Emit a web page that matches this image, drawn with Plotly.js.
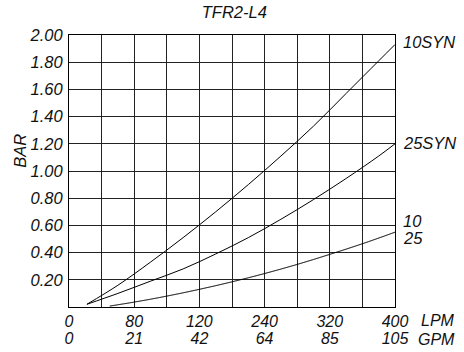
<!DOCTYPE html>
<html><head><meta charset="utf-8">
<script src="https://cdn.plot.ly/plotly-3.0.1.min.js"></script>
<style>html,body{margin:0;padding:0;background:#fff}#chart{width:464px;height:352px}</style>
</head><body><div id="chart"></div>
<script>
// Data (flow in LPM, pressure drop in BAR)
const xSyn10 = [22, 60, 100, 140, 180, 220, 260, 300, 340, 380, 400];
const ySyn10 = [0.02, 0.16, 0.33, 0.51, 0.70, 0.90, 1.11, 1.33, 1.57, 1.81, 1.93];
const xSyn25 = [22, 60, 100, 140, 180, 220, 260, 300, 340, 380, 400];
const ySyn25 = [0.02, 0.10, 0.19, 0.28, 0.39, 0.51, 0.645, 0.79, 0.945, 1.11, 1.20];
const x10 = [50, 80, 120, 160, 200, 240, 280, 320, 360, 400];
const y10 = [0.007, 0.036, 0.08, 0.13, 0.185, 0.246, 0.313, 0.387, 0.465, 0.55];
const x25 = [50, 80, 120, 160, 200, 240, 280, 320, 360, 400];
const y25 = [0.007, 0.036, 0.08, 0.13, 0.185, 0.246, 0.313, 0.387, 0.465, 0.55];
const seriesNames = ["10SYN", "25SYN", "10", "25"];
const labelY = [1.945, 1.205, 0.63, 0.51];
const gridX = [0, 40, 80, 120, 160, 200, 240, 280, 320, 360, 400];
const lpmText = ["0", "", "80", "", "120", "", "240", "", "320", "", "400"];
const gpmText = ["0", "", "21", "", "42", "", "64", "", "85", "", "105"];
const yTicks = [0.2, 0.4, 0.6, 0.8, 1.0, 1.2, 1.4, 1.6, 1.8, 2.0];
const yTickText = ["0.20", "0.40", "0.60", "0.80", "1.00", "1.20", "1.40", "1.60", "1.80", "2.00"];

const F = {family: "Liberation Sans, Arial, sans-serif", size: 16.5, color: "#111", style: "italic"};
const FX = Object.assign({}, F, {size: 16});
const xs = [xSyn10, xSyn25, x10, x25], ys = [ySyn10, ySyn25, y10, y25];
const opac = [1, 1, 0.55, 0.55];
const traces = xs.map((x, i) => ({x: x, y: ys[i], type: "scatter", mode: "lines", name: seriesNames[i],
  line: {color: "#000", width: 1, shape: "spline", smoothing: 1}, opacity: opac[i], hoverinfo: "skip", showlegend: false}));
// dummy trace for second (GPM) axis
traces.push({x: [0, 400], y: [0, 0], xaxis: "x2", yaxis: "y", mode: "lines", line: {width: 0}, showlegend: false, hoverinfo: "skip"});

const ann = seriesNames.map((n, i) => ({text: n, xref: "paper", yref: "y", x: 1.018, y: labelY[i],
  xanchor: "left", yanchor: "middle", showarrow: false, font: F}));
ann.push({text: "LPM", xref: "paper", yref: "paper", x: 1.19, y: -0.05, xanchor: "right", yanchor: "middle", showarrow: false, font: FX});
ann.push({text: "GPM", xref: "paper", yref: "paper", x: 1.19, y: -0.12, xanchor: "right", yanchor: "middle", showarrow: false, font: FX});
ann.push({text: "BAR", xref: "paper", yref: "paper", x: -0.15, y: 0.575, xanchor: "center", yanchor: "middle", textangle: -90, showarrow: false, font: F});

const layout = {
  width: 464, height: 352,
  margin: {l: 69, r: 69, t: 35, b: 45, pad: 0},
  paper_bgcolor: "#fff", plot_bgcolor: "#fff",
  title: {text: "TFR2-L4", font: F, x: 0.505, xanchor: "center", y: 0.965, yanchor: "middle"},
  xaxis: {range: [0, 400], tickmode: "array", tickvals: gridX, ticktext: lpmText, showgrid: true, gridcolor: "#222", gridwidth: 1,
    zeroline: false, showline: true, linecolor: "#000", linewidth: 1, mirror: true, ticks: "", tickfont: FX, ticklabelstandoff: 0, fixedrange: true},
  xaxis2: {range: [0, 400], overlaying: "x", side: "bottom", anchor: "y", tickmode: "array", tickvals: gridX, ticktext: gpmText,
    showgrid: false, zeroline: false, showline: false, ticks: "", tickfont: FX, ticklabelstandoff: 20, fixedrange: true},
  yaxis: {range: [0, 2], tickmode: "array", tickvals: yTicks, ticktext: yTickText, showgrid: true, gridcolor: "#222", gridwidth: 1,
    zeroline: false, showline: true, linecolor: "#000", linewidth: 1, mirror: true, ticks: "", tickfont: F, ticklabelstandoff: 2, fixedrange: true},
  annotations: ann,
  showlegend: false
};
Plotly.newPlot("chart", traces, layout, {staticPlot: true, displayModeBar: false});
</script></body></html>
